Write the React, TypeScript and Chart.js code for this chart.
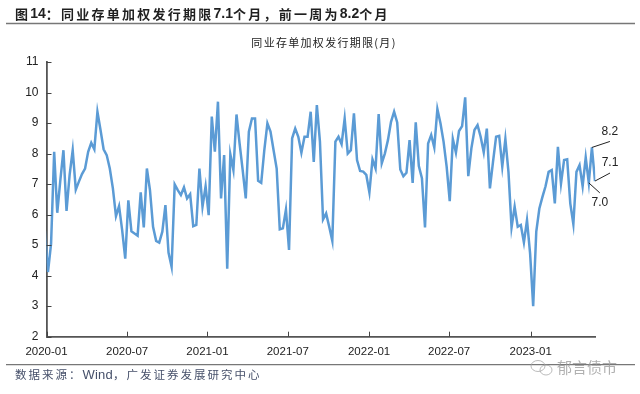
import React, { useEffect, useRef } from "react";
import { Chart, registerables } from "chart.js";

Chart.register(...registerables);

const chartTitle = "同业存单加权发行期限(月)";
const heading = "图14：同业存单加权发行期限7.1个月，前一周为8.2个月";
const sourceNote = "数据来源：Wind，广发证券发展研究中心";
const watermark = "郁言债市";

const tenorMonths = [
  5.46, 4.12, 5.05, 8.06, 6.06, 7.13, 8.11, 6.12, 7.3, 8.11, 6.82, 7.08, 7.33, 7.51, 8.06, 8.35, 8.14, 9.37,
  8.77, 8.14, 7.95, 7.51, 6.86, 5.95, 6.28, 5.49, 4.56, 6.47, 5.45, 5.38, 5.31, 6.73, 5.58, 7.51, 6.8, 5.6,
  5.14, 5.08, 5.44, 6.31, 4.76, 4.29, 6.99, 6.8, 6.64, 6.89, 6.53, 6.67, 5.62, 5.66, 7.51, 6.26, 6.93, 5.98,
  9.21, 8.06, 9.7, 6.53, 7.95, 4.23, 7.98, 7.46, 9.28, 8.33, 7.46, 6.53, 8.72, 9.15, 9.15, 7.11, 7.04, 8.11,
  8.99, 8.72, 8.11, 7.51, 5.52, 5.55, 6.17, 4.84, 8.5, 8.82, 8.55, 8.03, 8.55, 8.55, 9.37, 7.73, 9.59, 8.39,
  5.84, 6.04, 5.6, 5.14, 8.39, 8.55, 8.31, 9.15, 8.0, 8.11, 9.32, 7.79, 7.43, 7.41, 7.3, 6.73, 7.81, 7.51,
  9.29, 7.68, 8.0, 8.44, 9.04, 9.37, 9.02, 7.48, 7.26, 7.37, 8.44, 7.04, 9.02, 7.59, 7.19, 5.58, 8.33, 8.61,
  8.2, 9.46, 8.99, 8.39, 7.57, 6.44, 8.48, 8.03, 8.74, 8.9, 9.84, 7.26, 8.17, 8.77, 8.93, 8.55, 8.04, 8.82,
  6.86, 7.73, 8.55, 8.58, 7.57, 8.48, 7.4, 5.58, 6.26, 5.6, 5.66, 5.09, 5.82, 4.73, 3.0, 5.44, 6.2, 6.58,
  6.93, 7.4, 7.46, 6.37, 8.22, 7.02, 7.79, 7.81, 6.37, 5.69, 7.4, 7.62, 6.93, 7.87, 7.04, 8.2, 7.1,
];

const xTickLabels = ["2020-01", "2020-07", "2021-01", "2021-07", "2022-01", "2022-07", "2023-01"];
const xTickWeeks = [0.52, 26.6, 52.6, 78.6, 104.9, 130.8, 157.2];
const yTicks = [2, 3, 4, 5, 6, 7, 8, 9, 10, 11];

const callouts = [
  { text: "8.2", week: 177, lineDx: 18, lineDy: -6, textDx: 18, textDy: -16 },
  { text: "7.1", week: 178, lineDx: 15, lineDy: -8, textDx: 15, textDy: -18 },
  { text: "7.0", week: 176, lineDx: 11, lineDy: 10, textDx: 11, textDy: 20 },
];

const CJK = '"Noto Sans CJK SC"';
const LATIN = '"Liberation Sans"';

function drawRuns(
  ctx: any,
  text: string,
  x: number,
  y: number,
  cjkFont: string,
  cjkSpacing: string,
  latinFont: string,
  latinSpacing: string,
) {
  let cursor = x;
  for (const run of text.split(/([0-9.A-Za-z]+)/)) {
    if (!run) continue;
    const latin = /^[0-9.A-Za-z]+$/.test(run);
    ctx.font = latin ? latinFont : cjkFont;
    ctx.letterSpacing = latin ? latinSpacing : cjkSpacing;
    ctx.fillText(run, cursor, y);
    cursor += ctx.measureText(run).width;
  }
  ctx.letterSpacing = "0px";
}

const decorPlugin = {
  id: "decor",
  afterDatasetsDraw(chart: any) {
    const { ctx, scales } = chart;
    ctx.save();
    ctx.textBaseline = "middle";

    // inward tick marks
    ctx.strokeStyle = "#444";
    ctx.lineWidth = 1;
    const axisX = scales.x.left;
    const axisY = scales.y.bottom;
    for (const v of yTicks) {
      const py = Math.round(scales.y.getPixelForValue(v)) + 0.5;
      ctx.beginPath();
      ctx.moveTo(axisX, py);
      ctx.lineTo(axisX + 5, py);
      ctx.stroke();
    }
    for (const w of xTickWeeks) {
      const px = Math.round(scales.x.getPixelForValue(w)) + 0.5;
      ctx.beginPath();
      ctx.moveTo(px, axisY);
      ctx.lineTo(px, axisY - 5);
      ctx.stroke();
    }

    // callouts, anchored on the data
    ctx.strokeStyle = "#222";
    ctx.fillStyle = "#222";
    ctx.font = `12px ${LATIN}`;
    ctx.textAlign = "center";
    for (const c of callouts) {
      const px = scales.x.getPixelForValue(c.week);
      const py = scales.y.getPixelForValue(tenorMonths[c.week]);
      ctx.beginPath();
      ctx.moveTo(px, py);
      ctx.lineTo(px + c.lineDx, py + c.lineDy);
      ctx.stroke();
      ctx.fillText(c.text, px + c.textDx, py + c.textDy);
    }

    // heading and rules
    ctx.textAlign = "left";
    ctx.fillStyle = "#1f1f1f";
    drawRuns(ctx, heading, 15, 14, `bold 13px ${CJK}`, "2.25px", `bold 14px ${LATIN}`, "0px");

    ctx.fillStyle = "#222";
    ctx.font = `11px ${CJK}`;
    ctx.letterSpacing = "1.3px";
    ctx.textAlign = "center";
    ctx.fillText(chartTitle, 324, 43);
    ctx.letterSpacing = "0px";

    ctx.textAlign = "left";
    ctx.fillStyle = "#46506a";
    drawRuns(ctx, sourceNote, 15, 375, `11.5px ${CJK}`, "2px", `13px ${LATIN}`, "0.2px");

    ctx.strokeStyle = "#777";
    ctx.lineWidth = 1.5;
    ctx.beginPath();
    ctx.moveTo(6, 23.5);
    ctx.lineTo(635, 23.5);
    ctx.stroke();
    ctx.lineWidth = 1.2;
    ctx.beginPath();
    ctx.moveTo(6, 364.7);
    ctx.lineTo(635, 364.7);
    ctx.stroke();

    // watermark
    ctx.strokeStyle = "rgba(160,160,160,0.7)";
    ctx.lineWidth = 1;
    ctx.beginPath();
    ctx.ellipse(538, 366, 7, 5.5, 0, 0, Math.PI * 2);
    ctx.stroke();
    ctx.beginPath();
    ctx.ellipse(546, 370, 6, 5, 0, 0, Math.PI * 2);
    ctx.stroke();
    ctx.fillStyle = "rgba(150,150,150,0.75)";
    ctx.font = `15px ${CJK}`;
    ctx.fillText(watermark, 557, 367);
    ctx.restore();
  },
};

export default function App() {
  const ref = useRef<HTMLCanvasElement>(null);
  useEffect(() => {
    const chart = new Chart(ref.current!, {
      type: "line",
      data: {
        datasets: [
          {
            data: tenorMonths.map((y, i) => ({ x: i, y })),
            borderColor: "#5B9BD5",
            borderWidth: 2.5,
            pointRadius: 0,
            tension: 0,
            borderJoinStyle: "miter",
          },
        ],
      },
      options: {
        animation: false,
        responsive: false,
        layout: { padding: { top: 62, right: 44.7, left: 0, bottom: 0 } },
        plugins: { legend: { display: false }, tooltip: { enabled: false }, title: { display: false } },
        scales: {
          x: {
            type: "linear",
            min: 0.52,
            max: 178.1,
            afterBuildTicks: (s: any) => {
              s.ticks = xTickWeeks.map((value) => ({ value }));
            },
            afterFit: (s: any) => {
              s.height = 394 - 336.7;
            },
            grid: { drawOnChartArea: false, drawTicks: false },
            border: { color: "#555", width: 1.8 },
            ticks: {
              autoSkip: false,
              maxRotation: 0,
              minRotation: 0,
              padding: 8,
              color: "#222",
              font: { family: "Liberation Sans", size: 11.5 },
              callback: (v: any) => xTickLabels[xTickWeeks.indexOf(v)] ?? "",
            },
          },
          y: {
            type: "linear",
            min: 2,
            max: 11,
            afterBuildTicks: (s: any) => {
              s.ticks = yTicks.map((value) => ({ value }));
            },
            afterFit: (s: any) => {
              s.width = 46.5;
            },
            grid: { drawOnChartArea: false, drawTicks: false },
            border: { color: "#555", width: 1.8 },
            ticks: {
              padding: 8,
              color: "#222",
              font: { family: "Liberation Sans", size: 12 },
            },
          },
        },
      },
      plugins: [decorPlugin],
    } as any);
    return () => chart.destroy();
  }, []);
  return (
    <div style={{ position: "fixed", left: 0, top: 0, width: 640, height: 394, background: "#fff" }}>
      <canvas ref={ref} width={640} height={394} style={{ display: "block" }} />
    </div>
  );
}
